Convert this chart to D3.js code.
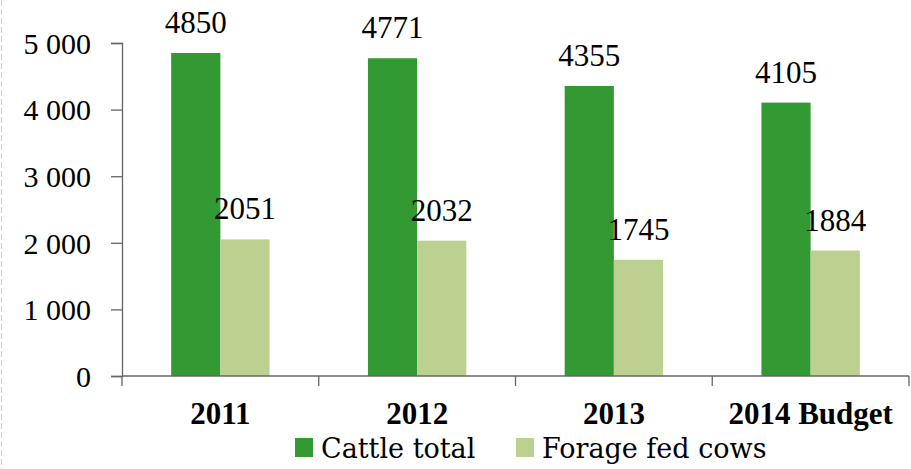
<!DOCTYPE html>
<html>
<head>
<meta charset="utf-8">
<script src="https://cdn.jsdelivr.net/npm/d3@7"></script>
<style>
  body { margin: 0; background: #fff; }
  svg text { font-family: "Liberation Serif", serif; fill: #000; }
</style>
</head>
<body>
<svg id="chart" width="911" height="469"></svg>
<script>
// data
const categories = ['2011', '2012', '2013', '2014 Budget'];
const seriesNames = ['Cattle total', 'Forage fed cows'];
const cattleTotal = [4850, 4771, 4355, 4105];
const forageFed = [2051, 2032, 1745, 1884];
const yTicks = [0, 1000, 2000, 3000, 4000, 5000];

const colors = ['#339933', '#bcd08f'];
const seriesValues = [cattleTotal, forageFed];

const width = 911, height = 469;
const margin = { top: 43, right: 2, bottom: 93, left: 122 };

const svg = d3.select('#chart');

// faint dashed frame edge on the left
svg.append('line')
  .attr('x1', 1.5).attr('x2', 1.5)
  .attr('y1', 0).attr('y2', height)
  .style('stroke', '#d0d0d0')
  .style('stroke-dasharray', '6,3');

const x = d3.scaleBand()
  .domain(categories)
  .range([margin.left, width - margin.right])
  .paddingInner(0).paddingOuter(0);

const xInner = d3.scaleBand()
  .domain(seriesNames)
  .range([0, x.bandwidth()])
  .paddingInner(0).paddingOuter(1);

const y = d3.scaleLinear()
  .domain([0, 5000])
  .range([height - margin.bottom, margin.top]);

// bars
const groups = svg.selectAll('.cat')
  .data(categories)
  .enter().append('g')
  .attr('class', 'cat')
  .attr('transform', d => `translate(${x(d)},0)`);

seriesNames.forEach((name, si) => {
  groups.append('rect')
    .attr('x', xInner(name))
    .attr('width', xInner.bandwidth())
    .attr('y', (d, i) => y(seriesValues[si][i]))
    .attr('height', (d, i) => y(0) - y(seriesValues[si][i]))
    .style('fill', colors[si]);

  groups.append('text')
    .attr('x', xInner(name) + xInner.bandwidth() / 2)
    .attr('y', (d, i) => y(seriesValues[si][i]) - 20)
    .attr('text-anchor', 'middle')
    .style('font-size', '31px')
    .text((d, i) => seriesValues[si][i]);
});

// y axis
const yAxis = d3.axisLeft(y)
  .tickValues(yTicks)
  .tickSizeOuter(0)
  .tickSize(11)
  .tickPadding(20)
  .tickFormat(d => d3.format(',')(d).replace(',', ' '));

const gy = svg.append('g')
  .attr('transform', `translate(${margin.left},0)`)
  .call(yAxis);
gy.select('.domain').style('stroke', '#666').style('stroke-width', 1.3);
gy.selectAll('.tick line').style('stroke', '#666').style('stroke-width', 1.3);
gy.selectAll('.tick text')
  .style('font-family', '"Liberation Serif", serif')
  .style('font-size', '30px')
  .attr('dy', '0.34em');

// x axis: line plus ticks at the category edges
const gx = svg.append('g').attr('transform', `translate(0,${y(0)})`);
gx.append('line')
  .attr('x1', margin.left).attr('x2', width - margin.right)
  .style('stroke', '#666').style('stroke-width', 1.3);
const edges = categories.map(c => x(c)).concat([x(categories[categories.length - 1]) + x.bandwidth()]);
gx.selectAll('.edge').data(edges).enter().append('line')
  .attr('x1', d => d).attr('x2', d => d)
  .attr('y1', 0).attr('y2', 10)
  .style('stroke', '#666').style('stroke-width', 1.3);
gx.selectAll('.cat-label').data(categories).enter().append('text')
  .attr('x', d => x(d) + x.bandwidth() / 2)
  .attr('y', 48)
  .attr('text-anchor', 'middle')
  .style('font-weight', 'bold')
  .style('font-size', '31px')
  .text(d => d);

// legend
const legendItems = [
  { name: seriesNames[0], color: colors[0], x: 295 },
  { name: seriesNames[1], color: colors[1], x: 516 }
];
const lg = svg.selectAll('.legend').data(legendItems).enter().append('g')
  .attr('transform', d => `translate(${d.x},438)`);
lg.append('rect').attr('width', 18).attr('height', 19).style('fill', d => d.color);
lg.append('text')
  .attr('x', 26).attr('y', 20)
  .style('font-family', '"DejaVu Serif", serif')
  .style('font-size', '27px')
  .text(d => d.name);
</script>
</body>
</html>
